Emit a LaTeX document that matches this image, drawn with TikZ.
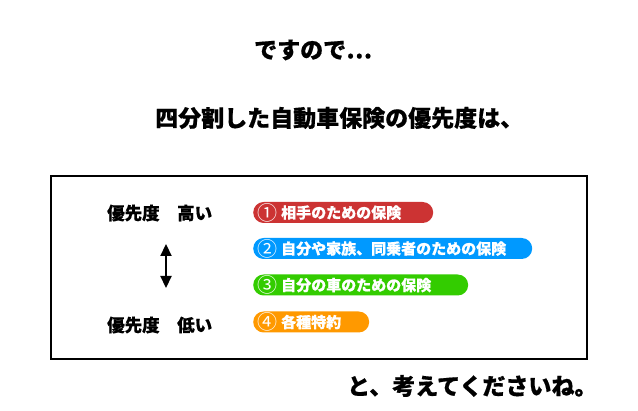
\documentclass[tikz,border=0pt]{standalone}
\usepackage{fontspec}
\setmainfont{Noto Sans CJK JP}[BoldFeatures={FakeBold=0.6}]
\usetikzlibrary{arrows.meta}
\definecolor{pillred}{HTML}{CC3333}
\definecolor{pillblue}{HTML}{0099FF}
\definecolor{pillgreen}{HTML}{33CC00}
\definecolor{pillorange}{HTML}{FF9900}
\newcommand{\fs}[1]{\fontsize{#1}{#1}\selectfont\bfseries}
\newcommand{\num}[1]{\makebox[24pt][l]{\raisebox{-1.8pt}{\fontsize{20}{20}\selectfont\mdseries#1}}}
\tikzset{
	pill/.style={fill=#1, text=white, rounded corners=10.5pt, minimum height=21pt, inner xsep=4pt, inner ysep=0pt, anchor=west, align=left, font=\fs{15}},
	lvl/.style={anchor=west, inner sep=0pt, font=\fs{17.5}},
	big/.style={inner sep=0pt, font=\fs{23}}
}

\begin{document}
\begin{tikzpicture}[x=1pt, y=-1pt]
	\useasboundingbox (0, 0) rectangle (638, 411);
	% Headings:
	\node[big, anchor=west](T1) at (254, 50){ですので…};
	\node[big, anchor=west](T2) at (155, 118){四分割した自動車保険の優先度は、};
	% Frame:
	\draw[line width=1.2pt] (51, 176) rectangle (587, 359);
	% Priority labels and arrow:
	\node[lvl](L1) at (107, 213){優先度　高い};
	\node[lvl](L2) at (107, 325){優先度　低い};
	\coordinate (A1) at (166, 244);
	\coordinate (A2) at (166, 288);
	\draw[line width=2.2pt, {Triangle[width=11pt, length=12pt]}-{Triangle[width=11pt, length=12pt]}] (A1) -- (A2);
	% Pills:
	\node[pill=pillred, text width=172pt](P1) at (253, 212.5){\num{①}相手のための保険};
	\node[pill=pillblue, text width=271pt](P2) at (253, 248.5){\num{②}自分や家族、同乗者のための保険};
	\node[pill=pillgreen, text width=207pt](P3) at (253, 285){\num{③}自分の車のための保険};
	\node[pill=pillorange, text width=108pt](P4) at (253, 322){\num{④}各種特約};
	% Closing line:
	\node[big, anchor=west](T3) at (347, 386){と、考えてくださいね。};
\end{tikzpicture}
\end{document}
